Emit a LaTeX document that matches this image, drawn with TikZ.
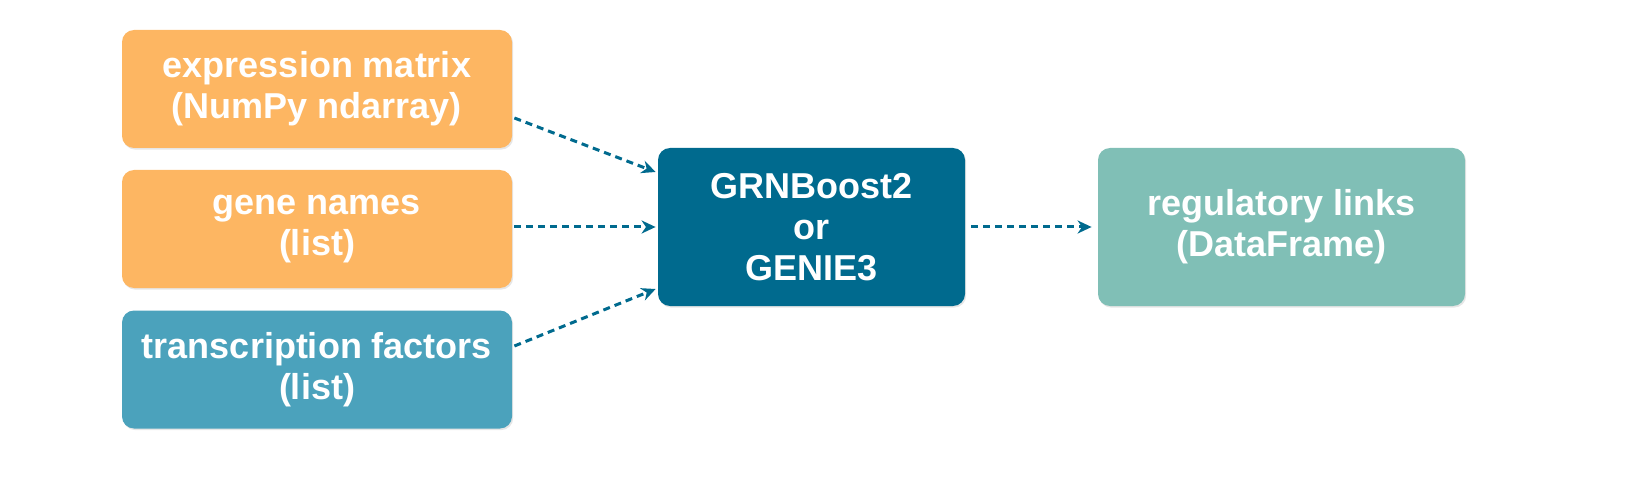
\documentclass[tikz,border=0pt]{standalone}
\usepackage{fontspec}
\setmainfont{Liberation Sans}
\usetikzlibrary{arrows.meta,shadows}
\definecolor{orng}{RGB}{253,182,98}
\definecolor{tfblue}{RGB}{75,162,188}
\definecolor{dkblue}{RGB}{0,106,142}
\definecolor{teal}{RGB}{128,191,182}
\tikzset{
  box/.style={rounded corners=6pt, text=white, align=center, font=\fontsize{18}{20.5}\selectfont\bfseries,
    drop shadow={shadow xshift=0.6pt, shadow yshift=-0.8pt, opacity=0.2}},
  link/.style={dkblue, line width=1.5pt, dash pattern=on 3.5pt off 2.5pt,
    -{Stealth[length=7pt,width=6.5pt,inset=2.2pt]}}
}
\begin{document}
\begin{tikzpicture}[x=0.5pt,y=-0.5pt]
\useasboundingbox (0,0) rectangle (1646,481);
\node[box, fill=orng, minimum width=195pt, minimum height=59pt] (in0) at (317,89){expression matrix\\(NumPy ndarray)};
\node[box, fill=orng, minimum width=195pt, minimum height=59pt] (in1) at (317,229){gene names\\(list)};
\node[box, fill=tfblue, minimum width=195pt, minimum height=59pt] (in2) at (317,369.5){transcription factors\\(list)};
\node[box, fill=dkblue, minimum width=153.5pt, minimum height=79pt] (alg) at (811.5,227){GRNBoost2\\or\\GENIE3};
\node[box, fill=teal, minimum width=183.5pt, minimum height=79pt] (out) at (1281.5,227){regulatory links\\(DataFrame)};
\draw[link] ([shift={(1pt,-14.5pt)}]in0.east) -- ([shift={(-1pt,27.5pt)}]alg.west);
\draw[link] ([shift={(1pt,1pt)}]in1.east) -- ([shift={(-1pt,0pt)}]alg.west);
\draw[link] ([shift={(1pt,11.75pt)}]in2.east) -- ([shift={(-1pt,-31pt)}]alg.west);
\draw[link] ([shift={(3pt,0pt)}]alg.east) -- ([shift={(-3pt,0pt)}]out.west);
\end{tikzpicture}
\end{document}
